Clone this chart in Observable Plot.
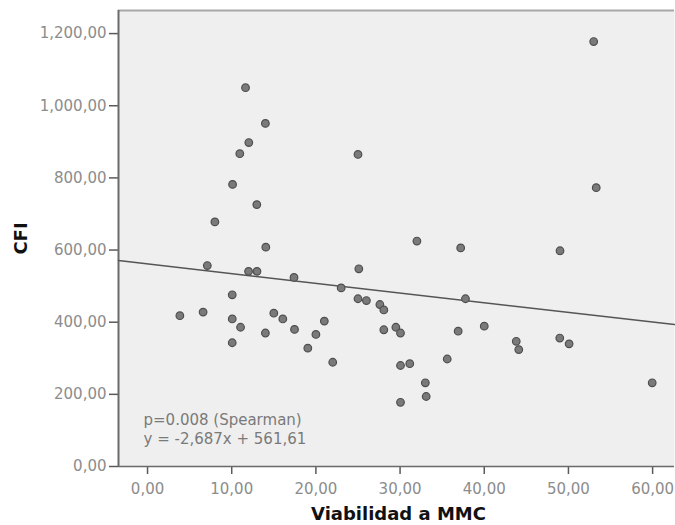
<!DOCTYPE html>
<html>
<head>
<meta charset="utf-8">
<script src="https://cdn.jsdelivr.net/npm/d3@7"></script>
<script src="https://cdn.jsdelivr.net/npm/@observablehq/plot@0.6"></script>
<style>
  html, body { margin: 0; padding: 0; background: #ffffff; }
  #chart svg { display: block; }
</style>
</head>
<body>
<div id="chart"></div>
<script>
// Viabilidad a MMC (x) versus CFI (y), one entry per sample
const viabilidad = [
  11.64, 14.0, 12.03, 10.96, 10.1, 12.98, 8.0, 14.05,
  53.0, 25.0, 53.3, 32.0, 37.2, 49.0,
  7.1, 12.0, 13.0, 17.4, 23.0, 10.06, 3.84, 6.6, 10.06, 11.05,
  15.0, 16.07, 14.0, 17.46, 21.0, 20.0, 19.04, 22.0, 10.06,
  25.1, 25.0, 26.0, 27.6, 28.07, 37.77, 28.07, 29.5, 30.05, 36.9,
  40.0, 43.8, 44.1, 48.97, 50.08, 35.6, 30.05, 31.15, 33.0, 33.1,
  30.05, 59.95
];
const cfi = [
  1050, 951, 898, 867, 782, 726, 678, 608,
  1178, 865, 773, 625, 606, 598,
  557, 541, 541, 524, 495, 476, 418, 428, 409, 386,
  425, 409, 370, 380, 403, 366, 328, 289, 343,
  548, 465, 460, 449, 434, 465, 379, 386, 370, 375,
  389, 347, 324, 356, 340, 298, 280, 285, 232, 194,
  178, 232
];

// Fitted line reported on the chart
const slope = -2.687;
const intercept = 561.61;
const statLines = ["p=0.008 (Spearman)", "y = -2,687x + 561,61"];

const xTicks = [0, 10, 20, 30, 40, 50, 60];
const yTicks = [0, 200, 400, 600, 800, 1000, 1200];
const xTitle = "Viabilidad a MMC";
const yTitle = "CFI";

const xDomain = [-3.45, 62.6];
const yDomain = [0, 1264];

const points = viabilidad.map((v, i) => ({x: v, y: cfi[i]}));
const fit = xDomain.map(x => ({x, y: slope * x + intercept}));

const loc = d3.formatLocale({decimal: ",", thousands: ",", grouping: [3]});
const fmt = loc.format(",.2f");

const chart = Plot.plot({
  width: 675,
  height: 525,
  marginLeft: 118,
  marginRight: 1,
  marginTop: 10,
  marginBottom: 59,
  style: {fontFamily: "DejaVu Sans", fontSize: "15px", background: "#ffffff"},
  x: {domain: xDomain},
  y: {domain: yDomain},
  marks: [
    Plot.frame({fill: "#efefef", stroke: null}),
    Plot.ruleY([yDomain[1]], {stroke: "#a8a8a8", strokeWidth: 2}),
    Plot.axisX({ticks: xTicks, tickFormat: fmt, tickSize: 8, tickPadding: 9,
      color: "#8c8c8c", stroke: "#5a5a5a", strokeWidth: 1.5, label: null}),
    Plot.axisY({ticks: yTicks, tickFormat: fmt, tickSize: 9, tickPadding: 3,
      color: "#8c8c8c", stroke: "#5a5a5a", strokeWidth: 1.5, label: null}),
    Plot.ruleX([xDomain[0]], {stroke: "#6a6a6a", strokeWidth: 2}),
    Plot.ruleY([0], {stroke: "#6a6a6a", strokeWidth: 1.5}),
    Plot.line(fit, {x: "x", y: "y", stroke: "#555555", strokeWidth: 1.5}),
    Plot.dot(points, {x: "x", y: "y", r: 3.8, fill: "#7a7a7a", stroke: "#4e4e4e", strokeWidth: 1.2}),
    Plot.text([statLines[0]], {frameAnchor: "bottom-left", dx: 25, dy: -46,
      lineAnchor: "middle", textAnchor: "start", fill: "#7a7a7a", fontSize: 15}),
    Plot.text([statLines[1]], {frameAnchor: "bottom-left", dx: 25, dy: -27,
      lineAnchor: "middle", textAnchor: "start", fill: "#7a7a7a", fontSize: 15}),
    Plot.text([xTitle], {frameAnchor: "bottom", dx: 2, dy: 47.5, lineAnchor: "middle",
      textAnchor: "middle", fill: "#111111", fontSize: 18, fontWeight: "bold"}),
    Plot.text([yTitle], {frameAnchor: "left", dx: -97, rotate: -90, lineAnchor: "middle",
      textAnchor: "middle", fill: "#111111", fontSize: 18, fontWeight: "bold"})
  ]
});

document.getElementById("chart").appendChild(chart);
</script>
</body>
</html>
